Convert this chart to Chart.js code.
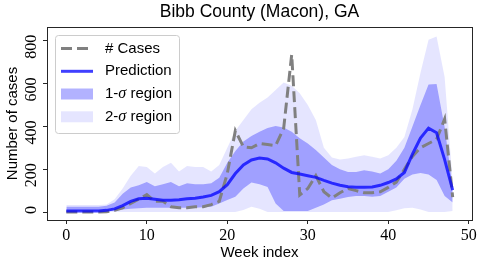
<!DOCTYPE html>
<html>
<head>
<meta charset="utf-8">
<script src="https://cdn.jsdelivr.net/npm/chart.js@4"></script>
<style>
  html, body { margin: 0; padding: 0; background: #fff; }
  canvas { display: block; }
</style>
</head>
<body>
<canvas id="c" width="483" height="267"></canvas>
<script>
/* Bibb County (Macon), GA — weekly cases vs. prediction */

// ── Data ───────────────────────────────────────────────────────────────────
const WEEKS = [0, 1, 2, 3, 4, 5, 6, 7, 8, 9, 10, 11, 12, 13, 14, 15, 16, 17, 18, 19,
               20, 21, 22, 23, 24, 25, 26, 27, 28, 29, 30, 31, 32, 33, 34, 35, 36, 37, 38, 39,
               40, 41, 42, 43, 44, 45, 46, 47, 48];

const CASES      = [0, 0, 0, 0, 0, 2, 8, 20, 40, 60, 82, 50, 50, 25, 20, 20, 25, 25, 35, 50,
                    180, 380, 305, 300, 320, 315, 310, 390, 735, 80, 110, 170, 95, 65, 90, 110, 100, 90, 90, 95,
                    115, 140, 200, 260, 300, 320, 340, 435, 70];
const PREDICTION = [5, 5, 5, 5, 5, 8, 15, 30, 50, 62, 65, 60, 55, 55, 58, 62, 65, 70, 78, 95,
                    128, 180, 220, 243, 252, 248, 230, 205, 185, 178, 170, 162, 148, 135, 125, 118, 116, 116, 117, 125,
                    138, 155, 185, 270, 345, 392, 370, 245, 103];
const SIG1_UPPER = [25, 25, 25, 25, 25, 30, 45, 85, 115, 125, 140, 120, 130, 140, 120, 135, 130, 130, 135, 160,
                    230, 285, 330, 355, 375, 392, 402, 395, 375, 345, 320, 290, 255, 220, 200, 187, 187, 195, 190, 180,
                    200, 240, 300, 400, 500, 595, 598, 397, 115];
const SIG1_LOWER = [5, 5, 5, 5, 5, 5, 8, 12, 15, 18, 20, 20, 20, 20, 20, 20, 20, 22, 25, 40,
                    56, 72, 110, 138, 130, 117, 40, 5, 5, 5, 5, 20, 35, 55, 62, 70, 75, 75, 72, 75,
                    95, 115, 155, 175, 182, 175, 150, 75, 45];
const SIG2_UPPER = [33, 33, 33, 33, 33, 35, 60, 110, 170, 215, 210, 180, 210, 230, 190, 215, 210, 210, 190, 220,
                    300, 380, 430, 480, 510, 535, 570, 605, 590, 555, 500, 430, 300, 255, 245, 250, 258, 265, 258, 250,
                    265, 300, 350, 480, 650, 805, 820, 630, 140];
const SIG2_LOWER = [0, 0, 0, 0, 0, 0, 0, 0, 0, 0, 0, 0, 0, 0, 0, 0, 0, 0, 0, 0,
                    0, 0, 10, 25, 15, 0, 0, 0, 0, 0, 0, 0, 0, 0, 0, 0, 0, 0, 0, 0,
                    0, 8, 18, 20, 12, 0, 0, 0, 5];

const X_TICKS = [0, 10, 20, 30, 40, 50];
const Y_TICKS = [0, 200, 400, 600, 800];
const X_RANGE = [-2.4, 50.4];
const Y_RANGE = [-37, 864];

const TITLE   = 'Bibb County (Macon), GA';
const X_TITLE = 'Week index';
const Y_TITLE = 'Number of cases';
const LEGEND_LABELS = ['# Cases', 'Prediction', ['1-', 'σ', ' region'], ['2-', 'σ', ' region']];

// ── Styles ─────────────────────────────────────────────────────────────────
const SANS  = "'Liberation Sans', Arial, sans-serif";
const SERIF = "'Liberation Serif', 'DejaVu Serif', serif";
const AXIS_COLOR = '#262626';
const PRED_COLOR = 'rgba(0,0,255,0.75)';
const CASE_COLOR = '#808080';
const SIG1_FILL  = 'rgba(0,0,255,0.3)';
const SIG2_FILL  = 'rgba(0,0,255,0.1)';

const pts = arr => WEEKS.map((w, i) => ({ x: w, y: arr[i] }));

function bandSet(arr, fill, color) {
  return { data: pts(arr), fill: fill, backgroundColor: color, borderWidth: 0, pointRadius: 0, tension: 0 };
}

// ── Plugins ────────────────────────────────────────────────────────────────
const framePlugin = {
  id: 'frame',
  afterDraw(chart) {
    const { ctx, chartArea: a } = chart;
    ctx.save();
    ctx.strokeStyle = AXIS_COLOR;
    ctx.lineWidth = 1;
    ctx.strokeRect(a.left + 0.5, a.top + 0.5, a.right - a.left, a.bottom - a.top);
    ctx.restore();
  }
};

const legendPlugin = {
  id: 'boxLegend',
  afterDraw(chart) {
    const { ctx } = chart;
    const box = { x: 55.5, y: 35.5, w: 124, h: 98 };
    const rowY = [48.5, 71.3, 94, 116.8];
    ctx.save();
    ctx.beginPath();
    ctx.roundRect(box.x, box.y, box.w, box.h, 3);
    ctx.fillStyle = 'rgba(255,255,255,0.8)';
    ctx.fill();
    ctx.strokeStyle = '#cccccc';
    ctx.lineWidth = 1;
    ctx.stroke();

    // handles
    ctx.lineWidth = 3;
    ctx.lineCap = 'butt';
    ctx.strokeStyle = CASE_COLOR;
    ctx.setLineDash([11, 5]);
    ctx.beginPath(); ctx.moveTo(61, rowY[0]); ctx.lineTo(93, rowY[0]); ctx.stroke();
    ctx.setLineDash([]);
    ctx.strokeStyle = PRED_COLOR;
    ctx.beginPath(); ctx.moveTo(61, rowY[1]); ctx.lineTo(93, rowY[1]); ctx.stroke();
    ctx.fillStyle = SIG1_FILL;
    ctx.fillRect(61, rowY[2] - 5.5, 32, 11);
    ctx.fillStyle = SIG2_FILL;
    ctx.fillRect(61, rowY[3] - 5.5, 32, 11);

    // labels
    ctx.fillStyle = '#000';
    ctx.textBaseline = 'middle';
    ctx.textAlign = 'left';
    LEGEND_LABELS.forEach((lab, i) => {
      const parts = Array.isArray(lab) ? lab : [lab];
      let x = 105;
      parts.forEach((p, j) => {
        ctx.font = (parts.length > 1 && j === 1) ? 'italic 16px ' + SERIF : '15px ' + SANS;
        ctx.fillText(p, x, rowY[i]);
        x += ctx.measureText(p).width;
      });
    });
    ctx.restore();
  }
};

// ── Chart ──────────────────────────────────────────────────────────────────
new Chart(document.getElementById('c'), {
  type: 'line',
  data: {
    datasets: [
      { data: pts(PREDICTION), borderColor: PRED_COLOR, borderWidth: 3, pointRadius: 0, fill: false, tension: 0 },
      { data: pts(CASES), borderColor: CASE_COLOR, borderWidth: 3, borderDash: [11, 5], pointRadius: 0, fill: false, tension: 0 },
      bandSet(SIG1_UPPER, '+1', SIG1_FILL),
      bandSet(SIG1_LOWER, false, SIG1_FILL),
      bandSet(SIG2_UPPER, '+1', SIG2_FILL),
      bandSet(SIG2_LOWER, false, SIG2_FILL)
    ]
  },
  options: {
    responsive: false,
    animation: false,
    devicePixelRatio: 1,
    layout: { padding: { left: 0, right: 11, top: 0, bottom: 0 } },
    plugins: {
      legend: { display: false },
      tooltip: { enabled: false },
      title: {
        display: true, text: TITLE, color: '#000', fullSize: false,
        font: { family: SANS, size: 17.5, weight: 'normal', lineHeight: 1.2 },
        padding: { top: 2, bottom: 4 }
      }
    },
    scales: {
      x: {
        type: 'linear', min: X_RANGE[0], max: X_RANGE[1],
        afterBuildTicks: s => { s.ticks = X_TICKS.map(v => ({ value: v })); },
        afterFit: s => { s.height = 47; },
        border: { display: false },
        grid: { drawOnChartArea: false, drawTicks: true, tickLength: 4, color: AXIS_COLOR },
        ticks: { color: '#000', font: { family: SERIF, size: 16 }, padding: 2, maxRotation: 0, autoSkip: false },
        title: { display: true, text: X_TITLE, color: '#000', font: { family: SANS, size: 15 }, padding: { top: 0, bottom: 5 } }
      },
      y: {
        type: 'linear', min: Y_RANGE[0], max: Y_RANGE[1],
        afterBuildTicks: s => { s.ticks = Y_TICKS.map(v => ({ value: v })); },
        afterFit: s => { s.width = 47; },
        border: { display: false },
        grid: { drawOnChartArea: false, drawTicks: true, tickLength: 4, color: AXIS_COLOR },
        ticks: {
          color: '#000', font: { family: SERIF, size: 16 }, autoSkip: false,
          minRotation: 90, maxRotation: 90, padding: 11, labelOffset: -6
        },
        title: { display: true, text: Y_TITLE, color: '#000', font: { family: SANS, size: 15 }, padding: { top: 4, bottom: 0 } }
      }
    }
  },
  plugins: [framePlugin, legendPlugin]
});
</script>
</body>
</html>
